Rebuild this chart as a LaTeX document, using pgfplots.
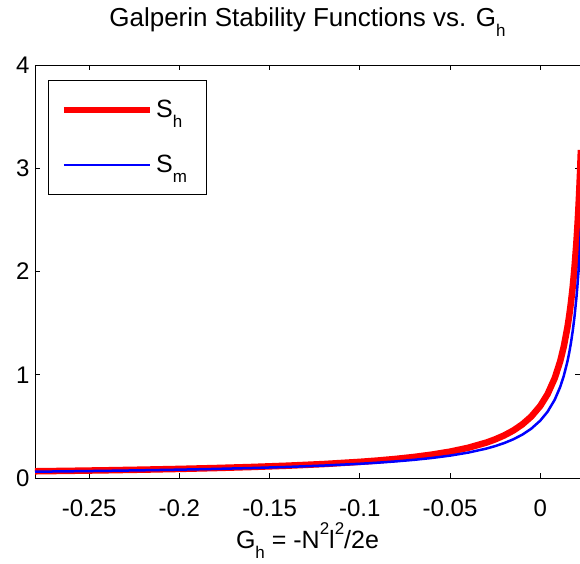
\documentclass[border=0pt]{standalone}
\usepackage{fontspec}
\setmainfont{Liberation Sans}
\usepackage{pgfplots}
\pgfplotsset{compat=1.18}
\newcommand\msub[1]{\raisebox{-10pt}{\fontsize{17}{17}\selectfont #1}}
\newcommand\msup[1]{\raisebox{14pt}{\fontsize{17}{17}\selectfont #1}}
\begin{document}
\begin{tikzpicture}
\useasboundingbox (-35pt,-85pt) rectangle (545pt,478pt);
\begin{axis}[
  at={(0pt,0pt)}, anchor=south west,
  scale only axis, width=545pt, height=413pt,
  xmin=-0.28, xmax=0.022, ymin=0, ymax=4,
  xtick={-0.25,-0.2,-0.15,-0.1,-0.05,0},
  xticklabels={-0.25,-0.2,-0.15,-0.1,-0.05,0},
  ytick={0,1,2,3,4},
  yticklabels={0,1,2,3,4},
  scaled ticks=false,
  tick align=inside, major tick length=5pt,
  tick style={black, line width=0.8pt},
  axis line style={black, line width=0.8pt},
  ticklabel style={font=\fontsize{24}{28}\selectfont},
  xticklabel style={yshift=-18pt},
  yticklabel style={xshift=-2pt},
  title={Galperin Stability Functions vs. G\msub{h}},
  title style={at={(0.5,1)}, anchor=base, yshift=33pt, font=\fontsize{26}{28}\selectfont},
  xlabel={G\msub{h} = -N\msup{2}l\msup{2}/2e},
  xlabel style={at={(0.5,0)}, anchor=base, yshift=-70pt, font=\fontsize{25}{28}\selectfont},
  legend cell align=left,
  legend image code/.code={\draw[#1] (0pt,0pt) -- (86pt,0pt);},
  legend style={at={(0.0244,0.9637)}, anchor=north west, draw=black, line width=0.8pt,
    font=\fontsize{25}{28}\selectfont, inner xsep=12pt, inner ysep=17pt, row sep=30pt,
    nodes={inner sep=3pt}},
]
\addplot[red, line width=6.5pt] coordinates {
(-0.28,0.0652) (-0.26,0.0697) (-0.24,0.0749) (-0.22,0.0810) (-0.20,0.0880)
(-0.18,0.0965) (-0.16,0.1067) (-0.14,0.1193) (-0.12,0.1353) (-0.10,0.1564)
(-0.09,0.1695) (-0.08,0.1851) (-0.07,0.2038) (-0.06,0.2268) (-0.05,0.2555)
(-0.04,0.2926) (-0.03,0.3424) (-0.025,0.3742) (-0.02,0.4125) (-0.015,0.4595)
(-0.01,0.5187) (-0.005,0.5953) (0,0.6985) (0.004,0.8110) (0.008,0.9667)
(0.011,1.1293) (0.013,1.2719) (0.015,1.4557) (0.016,1.5691) (0.017,1.7016)
(0.018,1.8586) (0.019,2.0475) (0.020,2.2792) (0.0205,2.4159) (0.021,2.5700)
(0.0215,2.7451) (0.022,2.9458) (0.0225,3.1780)
};
\addlegendentry{S\msub{h}\hspace*{4pt}}
\addplot[blue, line width=2.5pt] coordinates {
(-0.28,0.0611) (-0.26,0.0651) (-0.24,0.0696) (-0.22,0.0748) (-0.20,0.0809)
(-0.18,0.0881) (-0.16,0.0967) (-0.14,0.1073) (-0.12,0.1206) (-0.10,0.1378)
(-0.09,0.1484) (-0.08,0.1610) (-0.07,0.1759) (-0.06,0.1942) (-0.05,0.2168)
(-0.04,0.2459) (-0.03,0.2845) (-0.025,0.3090) (-0.02,0.3385) (-0.015,0.3745)
(-0.01,0.4197) (-0.005,0.4779) (0,0.5562) (0.004,0.6412) (0.008,0.7586)
(0.011,0.8809) (0.013,0.9881) (0.015,1.1261) (0.016,1.2112) (0.017,1.3107)
(0.018,1.4284) (0.019,1.5700) (0.020,1.7436) (0.0205,1.8460) (0.021,1.9615)
(0.0215,2.0927) (0.022,2.2430) (0.0225,2.4170)
};
\addlegendentry{S\msub{m}\hspace*{4pt}}
\end{axis}
\end{tikzpicture}
\end{document}
